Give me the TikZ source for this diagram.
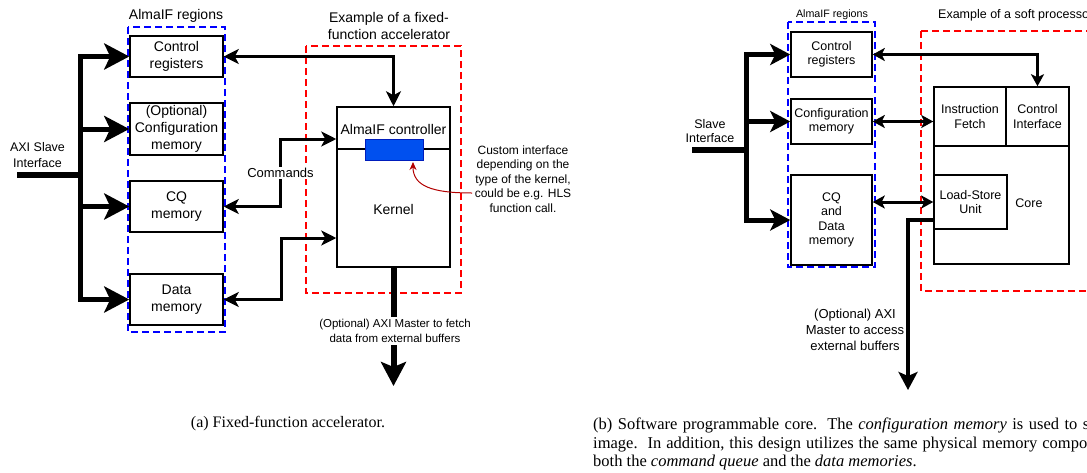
\documentclass[tikz,border=0pt]{standalone}
\usepackage{fontspec}
\setmainfont{Liberation Serif}
\newfontfamily\sansf{Liberation Sans}
\usetikzlibrary{arrows.meta,calc}
\definecolor{dblue}{RGB}{0,0,255}
\definecolor{dred}{RGB}{255,0,0}
\definecolor{cifill}{RGB}{0,80,239}
\definecolor{cidraw}{RGB}{0,29,188}
\definecolor{annred}{RGB}{178,0,0}
\newcommand{\fsz}[2]{\fontsize{#1}{#2}\selectfont}
\begin{document}
\begin{tikzpicture}[x=1pt,y=-1pt,
  every node/.style={font=\sansf, inner sep=0pt},
  lbox/.style={draw, line width=1.5pt, align=center, font=\sansf\fsz{14}{17}, minimum width=93pt},
  rbox/.style={draw, line width=1.5pt, align=center, font=\sansf\fsz{12.5}{14.5}},
  region/.style={dblue, line width=2pt, dash pattern=on 7pt off 4pt},
  accel/.style={dred, line width=2pt, dash pattern=on 7pt off 4pt},
  bus/.style={line width=5pt},
  bigtip/.style={-{Stealth[length=25pt,width=26pt,inset=6pt]}},
  rbigtip/.style={-{Stealth[length=20pt,width=21pt,inset=5pt]}},
  conn/.style={line width=3pt},
  medboth/.style={arrows={Stealth[length=15pt,width=15pt,inset=4pt]-Stealth[length=15pt,width=15pt,inset=4pt]}},
  rboth/.style={arrows={Stealth[length=12pt,width=13pt,inset=3pt]-Stealth[length=12pt,width=13pt,inset=3pt]}},
  lbl/.style={align=center},
  capb/.style={anchor=base west, font=\rmfamily\fsz{16.5}{18.5}},
]
\useasboundingbox (0,0) rectangle (1087,472);
\clip (0,0) rectangle (1087,472);

% ================= (a) =================
\draw[region] (128,27) rectangle (225,332);
\draw[accel] (306,46) rectangle (461,293);
\node[font=\sansf\fsz{14}{17}] (regA) at (176,16) {AlmaIF regions};
\node[lbl, font=\sansf\fsz{14}{17}] (exA) at (389,26) {Example of a fixed-\\function accelerator};

\node[lbox, minimum height=41pt] (creg) at (176.5,56.5) {Control\\registers};
\node[lbox, minimum height=52pt] (cfg) at (176.5,129) {(Optional)\\Configuration\\memory};
\node[lbox, minimum height=51pt] (cq) at (176.5,206.5) {CQ\\memory};
\node[lbox, minimum height=51pt] (data) at (176.5,299.5) {Data\\memory};

\node[draw, line width=1.5pt, minimum width=113pt, minimum height=160pt] (ctrl) at (393.5,187) {};
\coordinate (dv) at (337,149);
\draw[line width=1.5pt] (ctrl.west |- dv) -- (ctrl.east |- dv);
\node[font=\sansf\fsz{14}{17}] (ctrlt) at (393.5,129) {AlmaIF controller};
\node[font=\sansf\fsz{14}{17}] (kern) at (393.5,209) {Kernel};
\node[draw=cidraw, fill=cifill, line width=1pt, minimum width=58pt, minimum height=21pt] (ci) at (394,149.5) {};

% AXI slave bus
\coordinate (sl) at (17,175);
\coordinate (bj) at (80,175);
\draw[line width=6pt] (sl) -- (bj);
\draw[bus, bigtip] (bj) |- (creg.west);
\draw[bus, bigtip] (bj) |- (cfg.west);
\draw[bus, bigtip] (bj) |- (cq.west);
\draw[bus, bigtip] (bj) |- (data.west);
\node[lbl, font=\sansf\fsz{12.5}{16}] (slA) at (37.5,155) {AXI Slave\\Interface};

% connectors
\draw[conn, medboth] (creg.east) -| (ctrl.north);
\coordinate (cmdv) at (280,139);
\draw[conn, medboth] (cq.east) -| (cmdv) -- (cmdv -| ctrl.west);
\node[fill=white, inner sep=1.5pt, font=\sansf\fsz{13}{15}] (cmdl) at (280.5,173) {Commands};
\coordinate (datv) at (281,238);
\draw[conn, medboth] (data.east) -| (datv) -- (datv -| ctrl.west);

% AXI master (a)
\coordinate (mtip) at (395,386);
\draw[line width=6pt, -{Stealth[length=24pt,width=25pt,inset=5pt]}] (ctrl.south) -- (ctrl.south |- mtip);
\node[lbl, fill=white, inner sep=2pt, font=\sansf\fsz{11.5}{15}] (mlA) at (395,331) {(Optional) AXI Master to fetch\\data from external buffers};

% custom interface annotation
\node[lbl, font=\sansf\fsz{12}{14.6}] (ctxt) at (523,179) {Custom interface\\depending on the\\type of the kernel,\\could be e.g. HLS\\function call.};
\coordinate (annS) at (472,193);
\coordinate (annT) at (413,162);
\draw[annred, line width=1pt, -{Stealth[length=8pt,width=7pt]}] (annS) .. controls (432,193) and (413,186) .. (annT);

\node[font=\rmfamily\fsz{16}{18.5}] (capA) at (288,424) {(a) Fixed-function accelerator.};

% ================= (b) =================
\draw[region] (788,22) rectangle (875,267);
\draw[accel] (921,31) rectangle (1110,291);
\node[font=\sansf\fsz{10.7}{13}] (regB) at (832,15) {AlmaIF regions};
\node[anchor=west, font=\sansf\fsz{12.5}{15}] (exB) at (938,15) {Example of a soft processor};

\node[rbox, minimum width=81pt, minimum height=45pt] (creg2) at (831.5,54.5) {Control\\registers};
\node[rbox, minimum width=81pt, minimum height=45pt] (cfg2) at (831.5,121.5) {Configuration\\memory};
\node[rbox, minimum width=81pt, minimum height=90pt] (cqd) at (831.5,220) {CQ\\and\\Data\\memory};

\node[draw, line width=1.5pt, minimum width=135pt, minimum height=177pt] (core) at (1001.5,175.5) {};
\node[rbox, minimum width=72pt, minimum height=59pt] (ifu) at (970,116.5) {Instruction\\Fetch};
\node[rbox, minimum width=63pt, minimum height=59pt] (cif) at (1037.5,116.5) {Control\\Interface};
\node[rbox, minimum width=73pt, minimum height=54pt] (lsu) at (970.5,202) {Load-Store\\Unit};
\node[font=\sansf\fsz{12.5}{14.5}] (coret) at (1029,203) {Core};

% slave bus (b)
\coordinate (sl2) at (692,150);
\coordinate (bj2) at (746,150);
\draw[line width=5.5pt] (sl2) -- (bj2);
\draw[bus, rbigtip] (bj2) |- (creg2.west);
\draw[bus, rbigtip] (bj2) |- (cfg2.west);
\draw[bus, rbigtip] (bj2) |- (cqd.west);
\node[lbl, font=\sansf\fsz{12.5}{14}] (slB) at (710,131) {Slave\\Interface};

% connectors (b)
\draw[conn, rboth] (creg2.east) -| (cif.north);
\draw[conn, rboth] (cfg2.east) -- (cfg2.east -| ifu.west);
\draw[conn, rboth] (cqd.east |- lsu.west) -- (lsu.west);

% AXI master (b)
\coordinate (mtip2) at (908,390);
\draw[line width=4pt, -{Stealth[length=18pt,width=19pt,inset=4pt]}] ($(lsu.south west)+(0,-10)$) -| (mtip2);
\node[lbl, font=\sansf\fsz{13}{16}] (mlB) at (855,330) {(Optional) AXI\\Master to access\\external buffers};

% caption (b)
\node[capb] (capB1) at (593,429.5) {\spaceskip=5.5pt\relax (b) Software programmable core.\hspace{10pt}The \textit{configuration memory} is used to store the};
\node[capb] (capB2) at (593,448) {\spaceskip=4.9pt\relax image.\hspace{10pt}In addition, this design utilizes the same physical memory component for};
\node[capb] (capB3) at (593,466.5) {both the \textit{command queue} and the \textit{data memories}.};
\end{tikzpicture}
\end{document}
